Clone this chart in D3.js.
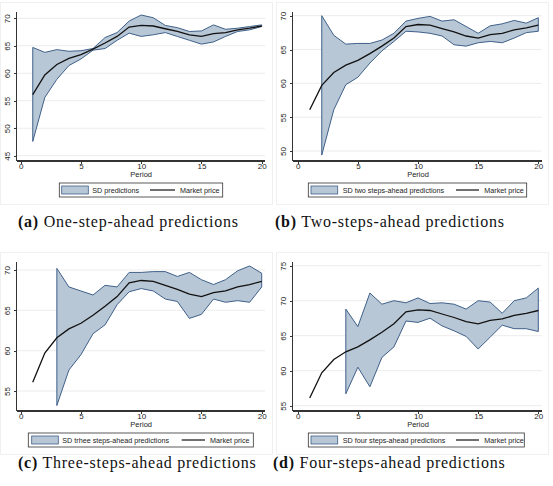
<!DOCTYPE html>
<html lang="en">
<head>
    <meta charset="UTF-8">
    <title>SD predictions</title>
    <script src="https://cdn.jsdelivr.net/npm/d3@7/dist/d3.min.js"></script>
    <style>
        body { margin: 0; background: #fff; }
        svg text { font-family: "Liberation Sans", Arial, sans-serif; fill: #222; }
        .axis path, .axis line { stroke: #333; shape-rendering: crispEdges; }
        .caption { font-family: "Liberation Serif", "DejaVu Serif", serif; fill: #111; }
    </style>
</head>
<body>
<script>
    //periods and the market price (same in every panel)
    var periods = [1, 2, 3, 4, 5, 6, 7, 8, 9, 10, 11, 12, 13, 14, 15, 16, 17, 18, 19, 20];
    var marketPrice = [56.1, 59.7, 61.6, 62.7, 63.4, 64.4, 65.5, 66.7, 68.4, 68.7, 68.6, 68.1, 67.6, 67.0, 66.7, 67.2, 67.4, 67.9, 68.2, 68.6];

    //band bounds, one pair per panel, starting at the first predicted period
    var lowOne  = [47.6, 55.6, 58.9, 61.4, 62.6, 64.2, 64.5, 66.0, 67.3, 66.7, 67.0, 67.4, 66.7, 66.0, 65.3, 65.7, 66.7, 67.6, 67.9, 68.5];
    var highOne = [64.7, 63.8, 64.3, 64.0, 64.1, 64.5, 66.5, 67.4, 69.5, 70.6, 70.1, 68.7, 68.3, 67.6, 67.7, 68.8, 68.0, 68.2, 68.5, 68.8];
    var lowTwo  = [49.4, 56.1, 59.8, 60.9, 63.0, 64.8, 66.2, 67.7, 67.6, 67.4, 67.0, 65.7, 65.5, 66.0, 66.2, 66.0, 66.7, 67.5, 67.7];
    var highTwo = [70.0, 67.1, 65.8, 65.9, 65.9, 66.4, 67.4, 69.2, 69.6, 69.9, 69.2, 69.4, 68.4, 67.4, 68.5, 68.8, 69.3, 68.9, 69.7];
    var lowThree  = [53.2, 57.6, 59.5, 62.1, 63.2, 65.7, 67.3, 67.7, 67.4, 66.4, 66.1, 64.0, 64.5, 66.4, 66.0, 66.2, 66.0, 67.9];
    var highThree = [70.2, 67.9, 67.4, 66.9, 68.1, 67.9, 69.7, 69.7, 69.8, 69.8, 69.2, 69.7, 68.8, 68.2, 68.8, 69.9, 70.5, 69.6];
    var lowFour  = [56.7, 60.5, 57.7, 61.9, 63.4, 67.1, 66.9, 67.5, 66.4, 65.7, 64.9, 63.1, 64.8, 66.5, 66.0, 66.0, 65.6];
    var highFour = [68.8, 66.3, 71.1, 69.5, 70.0, 69.7, 70.4, 69.6, 69.7, 69.5, 68.8, 70.0, 69.8, 68.2, 70.0, 70.4, 71.8];

    //tick labels
    var xTicks = [0, 5, 10, 15, 20];
    var yTicksOne = [45, 50, 55, 60, 65, 70];
    var yTicksTwo = [50, 55, 60, 65, 70];
    var yTicksThree = [55, 60, 65, 70];
    var yTicksFour = [55, 60, 65, 70, 75];

    var bandNames = ['SD predictions', 'SD two steps-ahead predictions',
                     'SD trhee steps-ahead predictions', 'SD four steps-ahead predictions'];
    var captionTags = ['(a)', '(b)', '(c)', '(d)'];
    var captionTexts = ['One-step-ahead predictions', 'Two-steps-ahead predictions',
                        'Three-steps-ahead predictions', 'Four-steps-ahead predictions'];

    var w = 553, h = 486;
    var bandFill = '#b8c7d6', bandStroke = '#3f6089';

    //layout of each panel (positions only)
    var panels = [
        {ox: 0,   oy: 0,   low: lowOne,   high: highOne,   start: 1, yTicks: yTicksOne,   yDom: [45, 70], yRange: [155.7, 18.3], xRange: [20.7, 261.7], left: 16.7, right: 265,
         capX: 18, capY: 226.5, legend: {x0: 59.3, x1: 222.7, sw: [61.7, 88.3], tx: 92.3, ln: [150, 175], mx: 180}},
        {ox: 276, oy: 0,   low: lowTwo,   high: highTwo,   start: 2, yTicks: yTicksTwo,   yDom: [50, 70], yRange: [151, 15.7],   xRange: [21.7, 262.3], left: 16.7, right: 265.7,
         capX: -1, capY: 226.5, legend: {x0: 32.3, x1: 250.7, sw: [35, 61.7], tx: 66.7, ln: [180, 203], mx: 208.3}},
        {ox: 0,   oy: 250, low: lowThree, high: highThree, start: 3, yTicks: yTicksThree, yDom: [55, 70], yRange: [141, 20],     xRange: [20.7, 261.7], left: 16.7, right: 265,
         capX: 18, capY: 218, legend: {x0: 28.3, x1: 253.3, sw: [31.7, 58.3], tx: 62.3, ln: [181.7, 205], mx: 210}},
        {ox: 276, oy: 250, low: lowFour,  high: highFour,  start: 4, yTicks: yTicksFour,  yDom: [55, 75], yRange: [155.7, 15.7], xRange: [21.7, 262.3], left: 16.7, right: 265.7,
         capX: -3, capY: 218, legend: {x0: 32.3, x1: 248.3, sw: [35, 61.7], tx: 66.7, ln: [180, 203], mx: 208.3}}
    ];

    var svg = d3.select('body')
                .append('svg')
                .attr('width', w)
                .attr('height', h);

    panels.forEach(function(p, i) {
        var g = svg.append('g').attr('transform', 'translate(' + p.ox + ',' + p.oy + ')');

        //faint frame round the graph
        g.append('rect')
            .attr('x', 0.5).attr('y', 2.5)
            .attr('width', 272).attr('height', 202)
            .attr('fill', 'none')
            .attr('stroke', '#eef0f2');

        var xScale = d3.scaleLinear().domain([0, 20]).range(p.xRange);
        var yScale = d3.scaleLinear().domain(p.yDom).range(p.yRange);
        var axisY = 161, topY = 11.7;

        //grid
        g.selectAll('line.grid')
            .data(p.yTicks)
            .enter()
            .append('line')
            .attr('class', 'grid')
            .attr('x1', p.left).attr('x2', p.right)
            .attr('y1', function(d) { return yScale(d); })
            .attr('y2', function(d) { return yScale(d); })
            .attr('stroke', '#ececec')
            .attr('stroke-width', 1);

        //band
        var bandData = p.low.map(function(v, k) {
            return {t: periods[k + p.start - 1], lo: v, hi: p.high[k]};
        });
        var area = d3.area()
            .x(function(d) { return xScale(d.t); })
            .y0(function(d) { return yScale(d.lo); })
            .y1(function(d) { return yScale(d.hi); });
        g.append('path')
            .datum(bandData)
            .attr('d', area)
            .attr('fill', bandFill)
            .attr('stroke', bandStroke)
            .attr('stroke-width', 1)
            .attr('stroke-linejoin', 'round');

        //market price
        var line = d3.line()
            .x(function(d, k) { return xScale(periods[k]); })
            .y(function(d) { return yScale(d); });
        g.append('path')
            .datum(marketPrice)
            .attr('d', line)
            .attr('fill', 'none')
            .attr('stroke', '#111')
            .attr('stroke-width', 1.3);

        //x axis
        var xAxis = d3.axisBottom(xScale).tickValues(xTicks).tickSize(2.5).tickPadding(0);
        var gx = g.append('g')
            .attr('class', 'axis')
            .attr('transform', 'translate(0,' + axisY + ')')
            .call(xAxis);
        gx.select('.domain').attr('d', 'M' + p.left + ',0H' + p.right).attr('stroke-width', 1.3);
        gx.selectAll('text').attr('font-size', '8px').attr('fill', '#222');

        //y axis, labels turned upright like the original
        var yAxis = d3.axisLeft(yScale).tickValues(p.yTicks).tickSize(2.5);
        var gy = g.append('g')
            .attr('class', 'axis')
            .attr('transform', 'translate(' + p.left + ',0)')
            .call(yAxis);
        gy.select('.domain').attr('d', 'M0,' + topY + 'V' + axisY).attr('stroke-width', 1.3);
        gy.selectAll('text')
            .attr('font-size', '8px')
            .attr('fill', '#222')
            .attr('transform', 'rotate(-90)')
            .attr('x', 0)
            .attr('y', -6.5)
            .attr('dy', 0)
            .attr('text-anchor', 'middle');

        //axis title
        g.append('text')
            .attr('x', (xScale(0) + xScale(20)) / 2)
            .attr('y', 177.3)
            .attr('text-anchor', 'middle')
            .attr('font-size', '7.5px')
            .text('Period');

        //legend
        var L = p.legend;
        g.append('rect')
            .attr('x', L.x0).attr('y', 183)
            .attr('width', L.x1 - L.x0).attr('height', 14)
            .attr('fill', '#fff')
            .attr('stroke', '#333')
            .attr('stroke-width', 0.8);
        g.append('rect')
            .attr('x', L.sw[0]).attr('y', 186)
            .attr('width', L.sw[1] - L.sw[0]).attr('height', 8)
            .attr('fill', bandFill)
            .attr('stroke', bandStroke)
            .attr('stroke-width', 0.8);
        g.append('text')
            .attr('x', L.tx).attr('y', 192.7)
            .attr('font-size', '7.2px')
            .text(bandNames[i]);
        g.append('line')
            .attr('x1', L.ln[0]).attr('x2', L.ln[1])
            .attr('y1', 190).attr('y2', 190)
            .attr('stroke', '#111')
            .attr('stroke-width', 1.2);
        g.append('text')
            .attr('x', L.mx).attr('y', 192.7)
            .attr('font-size', '7.2px')
            .text('Market price');

        //caption under the panel
        var cap = g.append('text')
            .attr('class', 'caption')
            .attr('x', p.capX)
            .attr('y', p.capY)
            .attr('font-size', '16px')
            .attr('letter-spacing', '0.75px');
        cap.append('tspan').attr('font-weight', 'bold').text(captionTags[i]);
        cap.append('tspan').text(' ' + captionTexts[i]);
    });
</script>
</body>
</html>
